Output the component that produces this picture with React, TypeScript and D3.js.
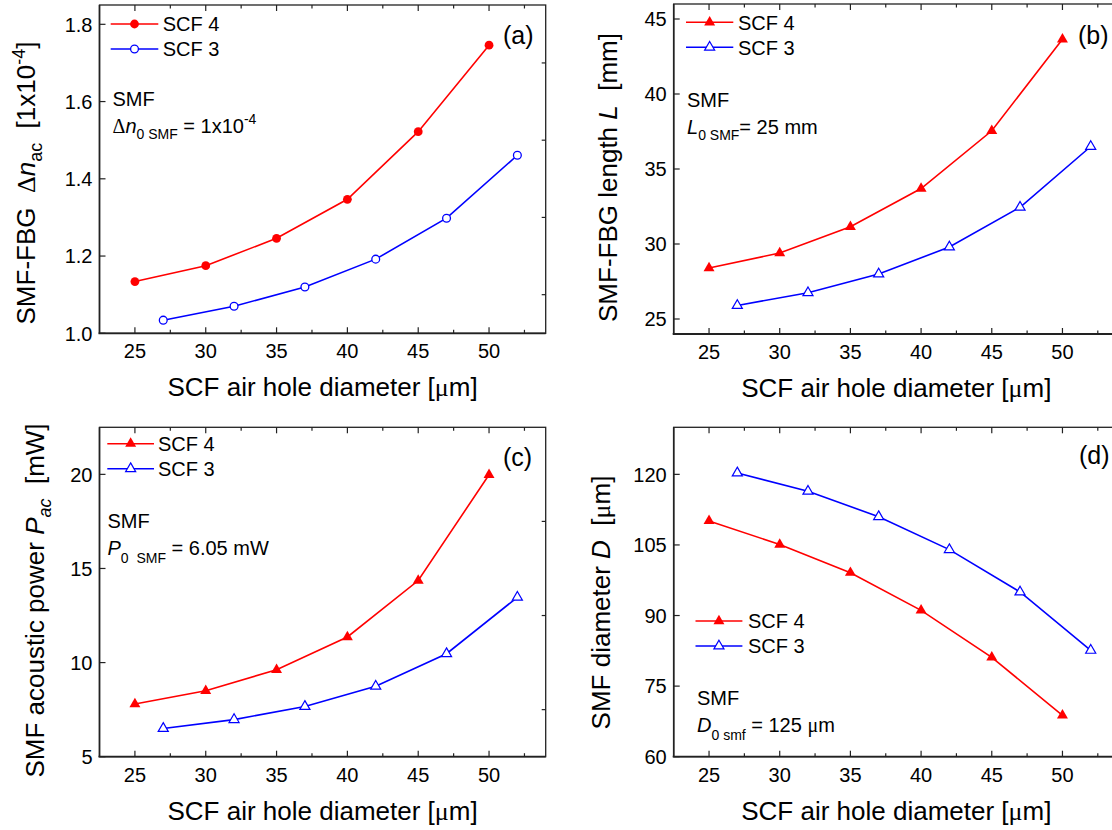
import React from 'react';
import * as d3 from 'd3';

const FONT = '"Liberation Sans", Arial, sans-serif';
const RED = '#ff0000';
const BLUE = '#0000ff';

// x positions (SCF air hole diameter, um)
const scf4X = [25, 30, 35, 40, 45, 50];
const scf3X = [27, 32, 37, 42, 47, 52];
const xTicks = [25, 30, 35, 40, 45, 50];
const xMinor = [27.5, 32.5, 37.5, 42.5, 47.5, 52.5];

// (a) SMF-FBG delta n_ac [1e-4]
const dnScf4 = [1.134, 1.175, 1.246, 1.347, 1.522, 1.746];
const dnScf3 = [1.034, 1.070, 1.120, 1.192, 1.298, 1.461];
const dnTicks = [1.0, 1.2, 1.4, 1.6, 1.8];

// (b) SMF-FBG length L [mm]
const lenScf4 = [28.4, 29.4, 31.15, 33.7, 37.55, 43.65];
const lenScf3 = [25.9, 26.75, 28.0, 29.8, 32.45, 36.5];
const lenTicks = [25, 30, 35, 40, 45];

// (c) SMF acoustic power P_ac [mW]
const powScf4 = [7.8, 8.5, 9.62, 11.36, 14.36, 19.98];
const powScf3 = [6.5, 6.97, 7.67, 8.74, 10.47, 13.47];
const powTicks = [5, 10, 15, 20];

// (d) SMF diameter D [um]
const diaScf4 = [110.1, 105.1, 99.1, 91.1, 81.1, 68.8];
const diaScf3 = [120.3, 116.4, 111.0, 104.0, 95.0, 82.6];
const diaTicks = [60, 75, 90, 105, 120];

const mu = <tspan fontFamily='"Liberation Serif", serif'>μ</tspan>;

type PanelCfg = {
  left: number; top: number; right: number; bottom: number;
  yDomain: [number, number];
  yTicks: number[];
  yFmt: (v: number) => string;
  s4: number[]; s3: number[];
  marker: 'circle' | 'triangle';
  legend: { x0: number; x1: number; y: number; tx: number };
  tag: string; tagX: number; tagY: number;
  yTitle: React.ReactNode; yTitleX: number; yTitleY: number;
  note: React.ReactNode;
};

function Marker({ type, x, y, filled, color }: any) {
  if (type === 'circle') {
    return filled
      ? <circle cx={x} cy={y} r={4.4} fill={color} />
      : <circle cx={x} cy={y} r={3.9} fill="#fff" stroke={color} strokeWidth={1.3} />;
  }
  const path = d3.symbol().type(d3.symbolTriangle).size(filled ? 52 : 44)() as string;
  return filled
    ? <path d={path} transform={`translate(${x},${y})`} fill={color} />
    : <path d={path} transform={`translate(${x},${y})`} fill="#fff" stroke={color} strokeWidth={1.2} />;
}

function Panel({ cfg }: { cfg: PanelCfg }) {
  const { left, top, right, bottom } = cfg;
  const x = d3.scaleLinear().domain([22.5, 54]).range([left, right]);
  const y = d3.scaleLinear().domain(cfg.yDomain).range([bottom, top]);
  const line = d3.line<[number, number]>().x(d => x(d[0])).y(d => y(d[1]));
  const pts4 = scf4X.map((v, i) => [v, cfg.s4[i]] as [number, number]);
  const pts3 = scf3X.map((v, i) => [v, cfg.s3[i]] as [number, number]);
  const yStep = cfg.yTicks[1] - cfg.yTicks[0];
  const yMinor = cfg.yTicks.map(t => t + yStep / 2).filter(t => t < cfg.yDomain[1]);
  const lg = cfg.legend;

  return (
    <g>
      {/* frame */}
      <rect x={left} y={top} width={right - left} height={bottom - top} fill="none" stroke="#222" strokeWidth={1.3} />
      <line x1={left - 1} x2={right} y1={bottom} y2={bottom} stroke="#222" strokeWidth={1.8} />
      <line x1={left} x2={left} y1={top} y2={bottom} stroke="#222" strokeWidth={1.6} />

      {/* x ticks */}
      {xTicks.map(t => (
        <g key={'xt' + t}>
          <line x1={x(t)} x2={x(t)} y1={bottom} y2={bottom - 6} stroke="#222" strokeWidth={1.2} />
          <line x1={x(t)} x2={x(t)} y1={top} y2={top + 6} stroke="#222" strokeWidth={1.2} />
          <text x={x(t)} y={bottom + 25} textAnchor="middle" fontSize={20} fontFamily={FONT}>{t}</text>
        </g>
      ))}
      {xMinor.map(t => (
        <g key={'xm' + t}>
          <line x1={x(t)} x2={x(t)} y1={bottom} y2={bottom - 3.5} stroke="#222" strokeWidth={1.2} />
          <line x1={x(t)} x2={x(t)} y1={top} y2={top + 3.5} stroke="#222" strokeWidth={1.2} />
        </g>
      ))}

      {/* y ticks */}
      {cfg.yTicks.map(t => (
        <g key={'yt' + t}>
          <line x1={left} x2={left + 6} y1={y(t)} y2={y(t)} stroke="#222" strokeWidth={1.2} />
          <text x={left - 7} y={y(t)} dy="0.36em" textAnchor="end" fontSize={20} fontFamily={FONT}>{cfg.yFmt(t)}</text>
        </g>
      ))}
      {yMinor.map(t => (
        <line key={'ym' + t} x1={right} x2={right - 4} y1={y(t)} y2={y(t)} stroke="#222" strokeWidth={1.2} />
      ))}

      {/* series */}
      <path d={line(pts4) as string} fill="none" stroke={RED} strokeWidth={1.6} />
      <path d={line(pts3) as string} fill="none" stroke={BLUE} strokeWidth={1.6} />
      {pts4.map((p, i) => <Marker key={'m4' + i} type={cfg.marker} x={x(p[0])} y={y(p[1])} filled color={RED} />)}
      {pts3.map((p, i) => <Marker key={'m3' + i} type={cfg.marker} x={x(p[0])} y={y(p[1])} filled={false} color={BLUE} />)}

      {/* legend */}
      {[{ c: RED, f: true, l: 'SCF 4' }, { c: BLUE, f: false, l: 'SCF 3' }].map((e, i) => {
        const ly = lg.y + i * 25;
        return (
          <g key={'lg' + i}>
            <line x1={lg.x0} x2={lg.x1} y1={ly} y2={ly} stroke={e.c} strokeWidth={1.6} />
            <Marker type={cfg.marker} x={(lg.x0 + lg.x1) / 2} y={ly} filled={e.f} color={e.c} />
            <text x={lg.tx} y={ly} dy="0.36em" fontSize={20} fontFamily={FONT}>{e.l}</text>
          </g>
        );
      })}

      <text x={cfg.tagX} y={cfg.tagY} fontSize={25} fontFamily={FONT}>{cfg.tag}</text>
      {cfg.note}

      {/* titles */}
      <text x={(left + Math.min(right, 1119)) / 2} y={bottom + 63} textAnchor="middle" fontSize={26} fontFamily={FONT}>
        SCF air hole diameter [{mu}m]
      </text>
      <text transform={`translate(${cfg.yTitleX},${cfg.yTitleY}) rotate(-90)`} textAnchor="middle"
        fontSize={26} fontFamily={FONT} style={{ whiteSpace: 'pre' }}>
        {cfg.yTitle}
      </text>
    </g>
  );
}

function Note({ x, y, children }: { x: number; y: number; children: React.ReactNode }) {
  return (
    <g fontFamily={FONT} fontSize={20}>
      <text x={x} y={y}>SMF</text>
      <text x={x} y={y + 27} style={{ whiteSpace: 'pre' }}>{children}</text>
    </g>
  );
}

const panels: PanelCfg[] = [
  {
    left: 99.5, top: 5, right: 545.7, bottom: 333.3,
    yDomain: [1.0, 1.85], yTicks: dnTicks, yFmt: d3.format('.1f'),
    s4: dnScf4, s3: dnScf3, marker: 'circle',
    legend: { x0: 110.7, x1: 158.3, y: 24, tx: 162.7 },
    tag: '(a)', tagX: 503, tagY: 44,
    yTitle: (<>
      SMF-FBG  <tspan fontFamily='"Liberation Serif", serif'>Δ</tspan><tspan fontStyle="italic">n</tspan>
      <tspan fontSize={18} dy={7}>ac</tspan><tspan dy={-7}>  [1x10</tspan><tspan fontSize={18} dy={-10}>-4</tspan><tspan dy={10}>]</tspan>
    </>),
    yTitleX: 35, yTitleY: 183,
    note: (<Note x={112.5} y={106}>
      <tspan fontFamily='"Liberation Serif", serif'>Δ</tspan><tspan fontStyle="italic">n</tspan>
      <tspan fontSize={14} dy={6}>0 SMF</tspan><tspan dy={-6}> = 1x10</tspan><tspan fontSize={14} dy={-9}>-4</tspan>
    </Note>),
  },
  {
    left: 673.7, top: 4, right: 1119, bottom: 334,
    yDomain: [24, 46], yTicks: lenTicks, yFmt: d3.format('d'),
    s4: lenScf4, s3: lenScf3, marker: 'triangle',
    legend: { x0: 686, x1: 733.3, y: 22.3, tx: 738 },
    tag: '(b)', tagX: 1078, tagY: 44,
    yTitle: (<>SMF-FBG length <tspan fontStyle="italic">L</tspan>  [mm]</>),
    yTitleX: 617, yTitleY: 177.5,
    note: (<Note x={687} y={107}>
      <tspan fontStyle="italic">L</tspan><tspan fontSize={14} dy={6}>0 SMF</tspan><tspan dy={-6}>= 25 mm</tspan>
    </Note>),
  },
  {
    left: 99.5, top: 427.3, right: 545.7, bottom: 756.7,
    yDomain: [5, 22.5], yTicks: powTicks, yFmt: d3.format('d'),
    s4: powScf4, s3: powScf3, marker: 'triangle',
    legend: { x0: 107.3, x1: 154, y: 443.7, tx: 158 },
    tag: '(c)', tagX: 503, tagY: 466,
    yTitle: (<>SMF acoustic power <tspan fontStyle="italic">P</tspan><tspan fontStyle="italic" fontSize={18} dy={7}>ac</tspan><tspan dy={-7}>  [mW]</tspan></>),
    yTitleX: 44, yTitleY: 600.5,
    note: (<Note x={107.5} y={528}>
      <tspan fontStyle="italic">P</tspan><tspan fontSize={14} dy={8}>0  SMF</tspan><tspan dy={-8}> = 6.05 mW</tspan>
    </Note>),
  },
  {
    left: 673.7, top: 427.3, right: 1119, bottom: 756.7,
    yDomain: [60, 130], yTicks: diaTicks, yFmt: d3.format('d'),
    s4: diaScf4, s3: diaScf3, marker: 'triangle',
    legend: { x0: 695.5, x1: 742.4, y: 621, tx: 748 },
    tag: '(d)', tagX: 1079, tagY: 464,
    yTitle: (<>SMF diameter <tspan fontStyle="italic">D</tspan>  [{mu}m]</>),
    yTitleX: 610, yTitleY: 602.5,
    note: (<Note x={697} y={705}>
      <tspan fontStyle="italic">D</tspan><tspan fontSize={14} dy={8}>0 smf</tspan><tspan dy={-8}> = 125 </tspan>{mu}<tspan>m</tspan>
    </Note>),
  },
];

export default function App() {
  return (
    <svg width={1112} height={830} style={{ position: 'absolute', left: 0, top: 0, background: '#fff' }}>
      <rect width={1112} height={830} fill="#fff" />
      {panels.map((p, i) => <Panel key={i} cfg={p} />)}
    </svg>
  );
}
